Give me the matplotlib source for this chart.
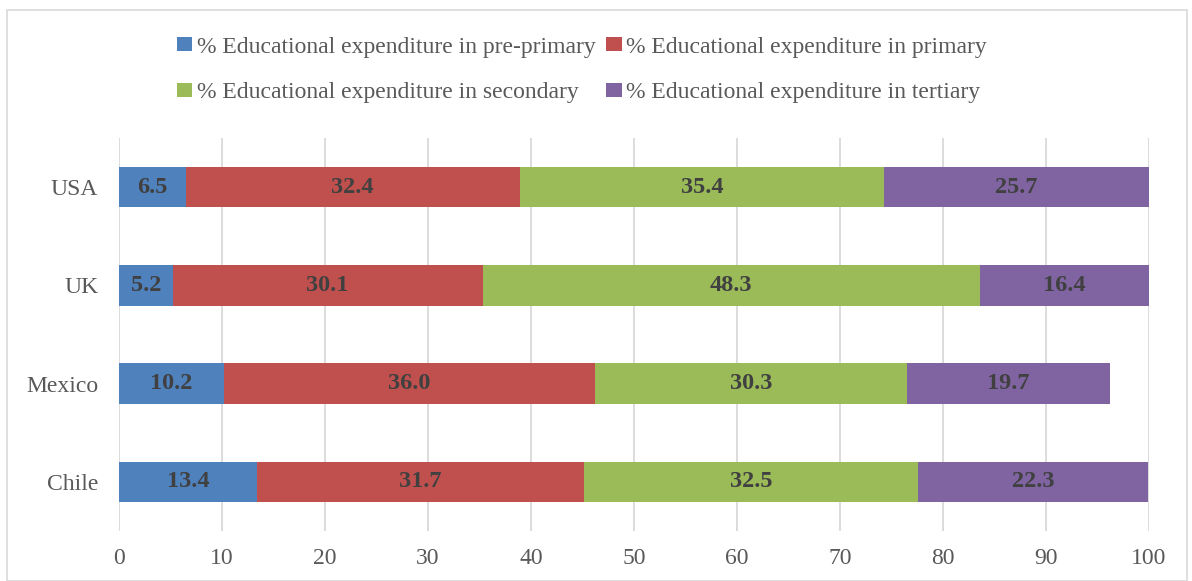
import matplotlib.pyplot as plt
import numpy as np
from matplotlib.patches import Rectangle

plt.rcParams['font.family'] = ['Liberation Serif', 'DejaVu Serif']

countries = ['Chile', 'Mexico', 'UK', 'USA']
pre_primary = [13.4, 10.2, 5.2, 6.5]
primary = [31.7, 36.0, 30.1, 32.4]
secondary = [32.5, 30.3, 48.3, 35.4]
tertiary = [22.3, 19.7, 16.4, 25.7]

series = [
    ('% Educational expenditure in pre-primary', pre_primary, '#4F81BD'),
    ('% Educational expenditure in primary', primary, '#C0504D'),
    ('% Educational expenditure in secondary', secondary, '#9BBB59'),
    ('% Educational expenditure in tertiary', tertiary, '#8064A2'),
]

fig = plt.figure(figsize=(11.92, 5.81), dpi=100)
ax = fig.add_axes([119 / 1192, 50 / 581, 1030 / 1192, 393 / 581])

y = np.arange(len(countries))
left = np.zeros(len(countries))
for name, vals, color in series:
    vals = np.array(vals)
    ax.barh(y, vals, left=left, height=0.41, color=color, label=name, zorder=3)
    for yi, l, v in zip(y, left, vals):
        ax.text(l + v / 2, yi, f'{v:.1f}', ha='center', va='center',
                fontsize=17.5, fontweight='bold', color='#404040', zorder=4)
    left += vals

ax.set_xlim(0, 100)
ax.set_ylim(-0.5, 3.5)
ax.set_xticks(range(0, 101, 10))
ax.set_yticks(y)
ax.set_yticklabels(countries)
ax.tick_params(axis='both', length=0, labelsize=17, labelcolor='#595959')
ax.tick_params(axis='x', pad=12)
ax.tick_params(axis='y', pad=15)
ax.grid(axis='x', color='#D9D9D9', linewidth=1.3, zorder=0)
for s in ax.spines.values():
    s.set_visible(False)

# legend fills column-first, so reorder to read row by row
handles, labels = ax.get_legend_handles_labels()
order = [0, 2, 1, 3]
fig.legend([handles[i] for i in order], [labels[i] for i in order], ncol=2, loc='center',
           bbox_to_anchor=(582 / 1192, 1 - 70 / 581), frameon=False, fontsize=17,
           labelcolor='#595959', handlelength=0.65, handleheight=0.5,
           handletextpad=0.2, columnspacing=0.45, labelspacing=1.05)

# outer border
fig.patches.append(Rectangle((7 / 1192, 0), 1180 / 1192, 1 - 10 / 581, transform=fig.transFigure,
                             fill=False, edgecolor='#D9D9D9', linewidth=1.2))

fig.savefig('out.png', dpi=100)
